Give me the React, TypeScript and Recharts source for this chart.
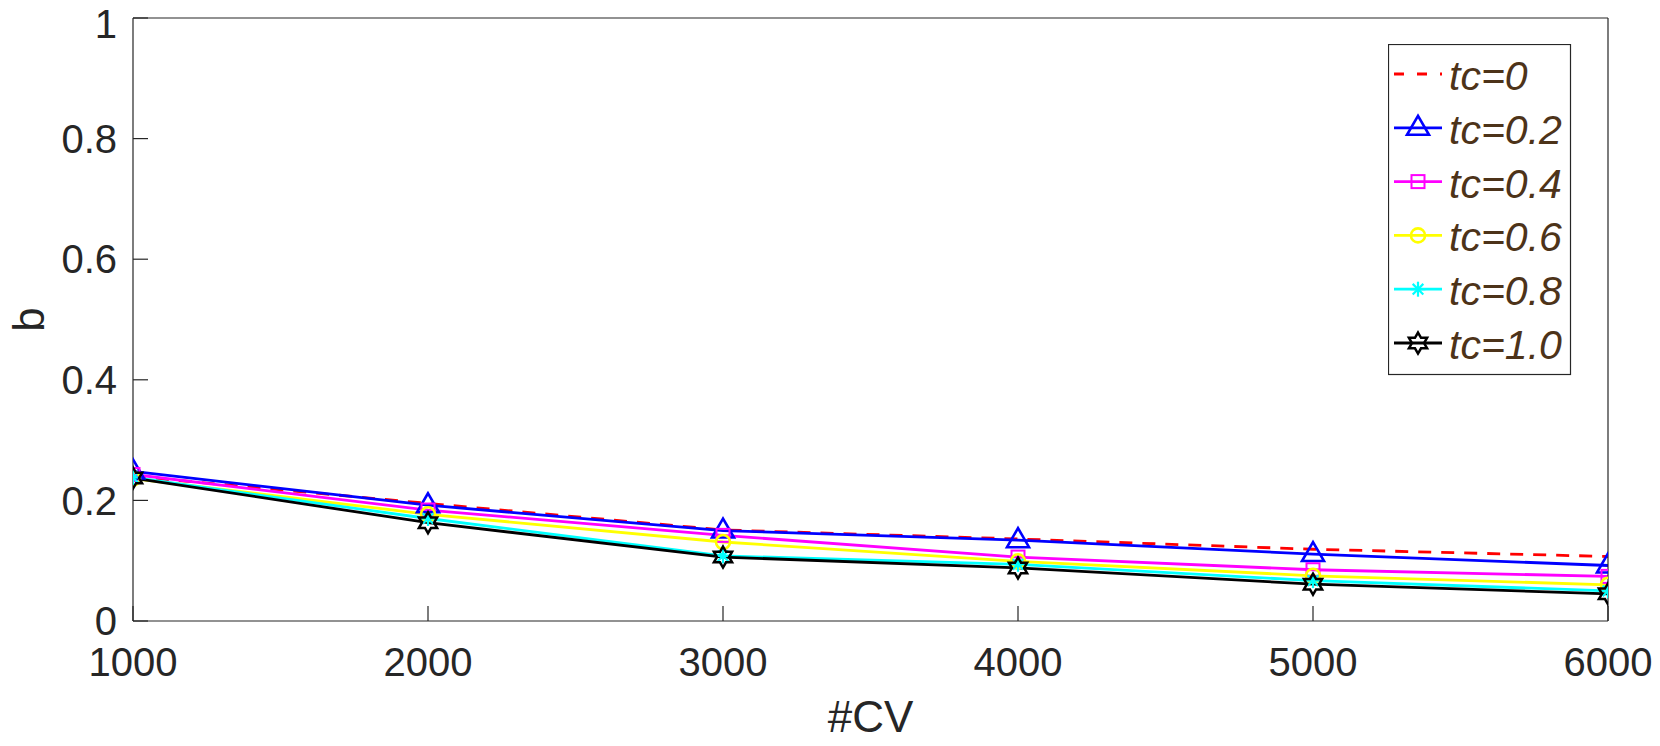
import React from 'react';
import { LineChart, Line, XAxis, YAxis, Legend, Label } from 'recharts';

const cvCounts = [1000, 2000, 3000, 4000, 5000, 6000];
const tc00 = [0.24, 0.195, 0.151, 0.136, 0.119, 0.107];
const tc02 = [0.248, 0.192, 0.15, 0.134, 0.111, 0.092];
const tc04 = [0.243, 0.184, 0.142, 0.106, 0.085, 0.074];
const tc06 = [0.236, 0.177, 0.131, 0.099, 0.075, 0.06];
const tc08 = [0.238, 0.17, 0.108, 0.094, 0.067, 0.05];
const tc10 = [0.237, 0.163, 0.106, 0.088, 0.061, 0.045];

const seriesValues = [tc00, tc02, tc04, tc06, tc08, tc10];
const seriesNames = ['tc=0', 'tc=0.2', 'tc=0.4', 'tc=0.6', 'tc=0.8', 'tc=1.0'];
const seriesColors = ['#ff0000', '#0000ff', '#ff00ff', '#ffff00', '#00ffff', '#000000'];
const seriesMarkers = ['none', 'triangle', 'square', 'circle', 'asterisk', 'hexagram'];

const xTicks = [1000, 2000, 3000, 4000, 5000, 6000];
const yTicks = [0, 0.2, 0.4, 0.6, 0.8, 1];

const data = cvCounts.map((cv, i) => {
  const row: Record<string, number> = { cv };
  seriesValues.forEach((vals, s) => {
    row[`s${s}`] = vals[i];
  });
  return row;
});

const AXIS_COLOR = '#262626';
const FONT = '"Liberation Sans", Arial, Helvetica, sans-serif';
const LINE_W = 2.8;

function Marker({ kind, cx, cy, color }: { kind: string; cx: number; cy: number; color: string }) {
  if (cx == null || cy == null || isNaN(cx) || isNaN(cy)) return null;
  if (kind === 'triangle') {
    return (
      <polygon
        points={`${cx},${cy - 12} ${cx - 11},${cy + 7} ${cx + 11},${cy + 7}`}
        fill="none"
        stroke={color}
        strokeWidth={2.6}
      />
    );
  }
  if (kind === 'square') {
    return <rect x={cx - 6.5} y={cy - 6.5} width={13} height={13} fill="none" stroke={color} strokeWidth={2} />;
  }
  if (kind === 'circle') {
    return <circle cx={cx} cy={cy} r={7} fill="none" stroke={color} strokeWidth={2.6} />;
  }
  if (kind === 'asterisk') {
    const r = 7.5;
    const d = r * 0.7071;
    return (
      <g stroke={color} strokeWidth={2.2}>
        <line x1={cx} y1={cy - r} x2={cx} y2={cy + r} />
        <line x1={cx - r} y1={cy} x2={cx + r} y2={cy} />
        <line x1={cx - d} y1={cy - d} x2={cx + d} y2={cy + d} />
        <line x1={cx - d} y1={cy + d} x2={cx + d} y2={cy - d} />
      </g>
    );
  }
  if (kind === 'hexagram') {
    const R = 10.5;
    const rIn = R / Math.sqrt(3);
    const pts: string[] = [];
    for (let k = 0; k < 12; k++) {
      const ang = (-90 + k * 30) * (Math.PI / 180);
      const rad = k % 2 === 0 ? R : rIn;
      pts.push(`${cx + rad * Math.cos(ang)},${cy + rad * Math.sin(ang)}`);
    }
    return <polygon points={pts.join(' ')} fill="none" stroke={color} strokeWidth={2.5} />;
  }
  return null;
}

const renderLegend = () => (
  <svg width={184} height={332} style={{ display: 'block', fontFamily: FONT }}>
    <rect x={0.5} y={0.5} width={182} height={330} fill="#ffffff" stroke={AXIS_COLOR} strokeWidth={1.2} />
    {seriesNames.map((name, i) => {
      const y = 30 + i * 53.8;
      return (
        <g key={name}>
          <line
            x1={6}
            x2={54}
            y1={y}
            y2={y}
            stroke={seriesColors[i]}
            strokeWidth={LINE_W}
            strokeDasharray={i === 0 ? '10 13' : undefined}
          />
          <Marker kind={seriesMarkers[i]} cx={30} cy={y} color={seriesColors[i]} />
          <text
            x={61}
            y={y + 2}
            fontSize={41}
            fontStyle="italic"
            fill="#4D3319"
            dominantBaseline="central"
            fontFamily={FONT}
          >
            {name}
          </text>
        </g>
      );
    })}
  </svg>
);

const renderYLabel = (props: any) => {
  const vb = props.viewBox || { x: 33, y: 18, width: 100, height: 603 };
  const x = vb.x + 11;
  const y = vb.y + vb.height / 2;
  return (
    <text
      x={x}
      y={y}
      transform={`rotate(-90, ${x}, ${y})`}
      textAnchor="middle"
      fontSize={44}
      fill={AXIS_COLOR}
      fontFamily={FONT}
    >
      b
    </text>
  );
};

export default function App() {
  return (
    <div style={{ position: 'absolute', left: 0, top: 0, width: 1660, height: 746, background: '#ffffff', fontFamily: FONT }}>
      <LineChart width={1660} height={746} data={data} margin={{ top: 8, right: 32, bottom: 0, left: 33 }}>
        <XAxis
          dataKey="cv"
          type="number"
          domain={[1000, 6000]}
          ticks={xTicks}
          height={125}
          orientation="bottom"
          tickSize={-15}
          tickMargin={42}
          axisLine={{ stroke: AXIS_COLOR, strokeWidth: 1.2 }}
          tickLine={{ stroke: AXIS_COLOR, strokeWidth: 1.2 }}
          tick={{ fill: AXIS_COLOR, fontSize: 40, fontFamily: FONT }}
          allowDataOverflow
        >
          <Label value="#CV" position="insideBottom" offset={14} fontSize={44} fill={AXIS_COLOR} fontFamily={FONT} />
        </XAxis>
        <XAxis
          xAxisId="top"
          dataKey="cv"
          type="number"
          domain={[1000, 6000]}
          ticks={xTicks}
          height={10}
          orientation="top"
          tickSize={-15}
          tick={false}
          axisLine={{ stroke: AXIS_COLOR, strokeWidth: 1.2 }}
          tickLine={{ stroke: AXIS_COLOR, strokeWidth: 1.2 }}
          allowDataOverflow
        />
        <YAxis
          type="number"
          domain={[0, 1]}
          ticks={yTicks}
          width={100}
          tickSize={-15}
          tickMargin={31}
          axisLine={{ stroke: AXIS_COLOR, strokeWidth: 1.2 }}
          tickLine={{ stroke: AXIS_COLOR, strokeWidth: 1.2 }}
          tick={{ fill: AXIS_COLOR, fontSize: 40, fontFamily: FONT }}
          allowDataOverflow
        >
          <Label content={renderYLabel} />
        </YAxis>
        <YAxis
          yAxisId="right"
          orientation="right"
          type="number"
          domain={[0, 1]}
          ticks={yTicks}
          width={20}
          tickSize={-15}
          tick={false}
          axisLine={{ stroke: AXIS_COLOR, strokeWidth: 1.2 }}
          tickLine={{ stroke: AXIS_COLOR, strokeWidth: 1.2 }}
          allowDataOverflow
        />
        {seriesNames.map((name, i) => (
          <Line
            key={name}
            name={name}
            dataKey={`s${i}`}
            type="linear"
            stroke={seriesColors[i]}
            strokeWidth={LINE_W}
            strokeDasharray={i === 0 ? '13 10' : undefined}
            dot={
              i === 0
                ? false
                : (p: any) => (
                    <Marker key={`m${i}-${p.index}`} kind={seriesMarkers[i]} cx={p.cx} cy={p.cy} color={seriesColors[i]} />
                  )
            }
            activeDot={false}
            isAnimationActive={false}
          />
        ))}
        <Legend
          layout="vertical"
          align="center"
          verticalAlign="middle"
          content={renderLegend}
          wrapperStyle={{ left: 1388, top: 44, width: 184, height: 332 }}
        />
      </LineChart>
    </div>
  );
}
